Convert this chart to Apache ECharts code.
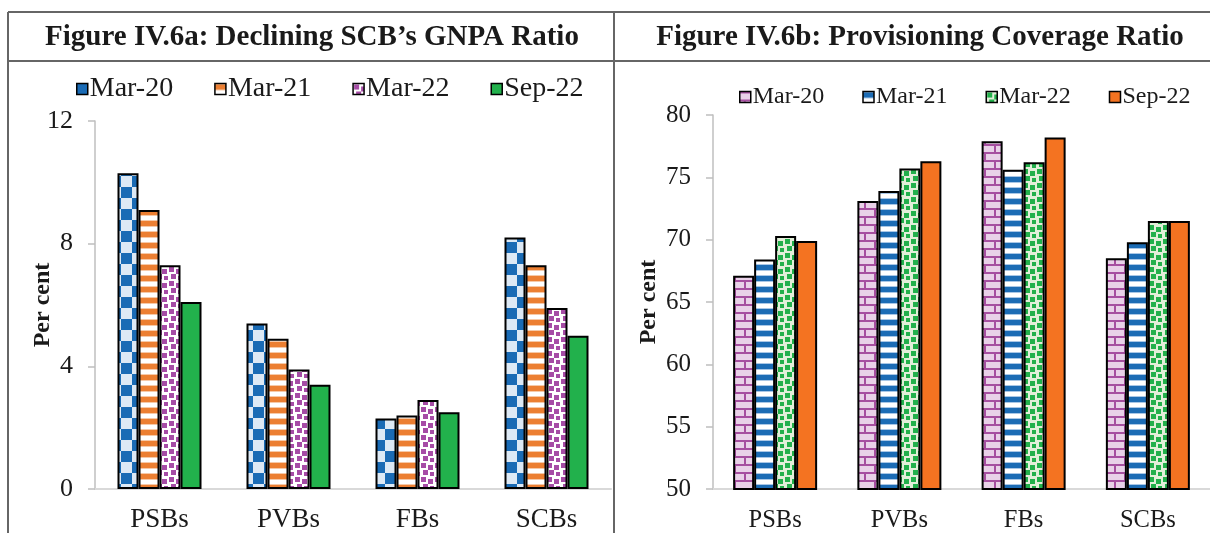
<!DOCTYPE html>
<html>
<head>
<meta charset="utf-8">
<script src="https://cdn.jsdelivr.net/npm/echarts@6/dist/echarts.min.js"></script>
<style>
  html, body { margin: 0; padding: 0; background: #fff; }
  #main { width: 1210px; height: 533px; }
</style>
</head>
<body>
<div id="main"></div>
<script>
// categories and series names
var banks = ['PSBs', 'PVBs', 'FBs', 'SCBs'];
var periods = ['Mar-20', 'Mar-21', 'Mar-22', 'Sep-22'];

// Figure IV.6a: GNPA ratio (per cent)
var gnpaMar20 = [10.3, 5.4, 2.3, 8.2];
var gnpaMar21 = [9.1, 4.9, 2.4, 7.3];
var gnpaMar22 = [7.3, 3.9, 2.9, 5.9];
var gnpaSep22 = [6.1, 3.4, 2.5, 5.0];

// Figure IV.6b: provisioning coverage ratio (per cent)
var pcrMar20 = [67.1, 73.1, 77.9, 68.5];
var pcrMar21 = [68.4, 73.9, 75.6, 69.8];
var pcrMar22 = [70.3, 75.7, 76.2, 71.5];
var pcrSep22 = [69.9, 76.3, 78.2, 71.5];

var gnpaTicks = {min: 0, max: 12, interval: 4};
var pcrTicks = {min: 50, max: 80, interval: 5};

var FONT = 'Liberation Serif';

// 纹理填充
function tile(w, h, draw) {
    var c = document.createElement('canvas');
    c.width = w; c.height = h;
    var ctx = c.getContext('2d');
    draw(ctx);
    return {image: c, repeat: 'repeat'};
}
function stripes(color, pale) {
    return tile(4, 11, function (ctx) {
        ctx.fillStyle = '#fff'; ctx.fillRect(0, 0, 4, 11);
        ctx.fillStyle = pale; ctx.fillRect(0, 0, 4, 1); ctx.fillRect(0, 6, 4, 1);
        ctx.fillStyle = color; ctx.fillRect(0, 1, 4, 5);
    });
}
function confetti(bg, fg, s) {
    return tile(14, 14, function (ctx) {
        ctx.fillStyle = bg; ctx.fillRect(0, 0, 14, 14);
        ctx.fillStyle = fg;
        [[1, 1], [8, 3], [3, 8], [10, 10]].forEach(function (p) {
            ctx.fillRect(p[0], p[1], s, s);
        });
    });
}
var checker = tile(22, 22, function (ctx) {
    ctx.fillStyle = '#dde9f5'; ctx.fillRect(0, 0, 22, 22);
    ctx.fillStyle = '#1a6bb5'; ctx.fillRect(0, 0, 11, 11); ctx.fillRect(11, 11, 11, 11);
});
var brick = tile(20, 16, function (ctx) {
    ctx.fillStyle = '#e9d1e8'; ctx.fillRect(0, 0, 20, 16);
    ctx.fillStyle = '#a64fa0';
    ctx.fillRect(0, 0, 20, 2); ctx.fillRect(0, 8, 20, 2);
    ctx.fillRect(14, 2, 2, 6); ctx.fillRect(4, 10, 2, 6);
});

var leftFills = [checker, stripes('#ec7f32', '#f6c9a8'), confetti('#ffffff', '#a64ca6', 5), '#22b14c'];
var rightFills = [brick, stripes('#1c6cb5', '#a9c7e6'), confetti('#e2efd9', '#22b04b', 5), '#f47321'];

function barSeries(name, data, fill, idx) {
    return {
        name: name,
        type: 'bar',
        xAxisIndex: idx,
        yAxisIndex: idx,
        data: data,
        barWidth: 21,
        barGap: '0%',
        itemStyle: {color: fill, borderColor: '#000', borderWidth: 2}
    };
}

function catAxis(idx, size, margin) {
    return {
        type: 'category', gridIndex: idx, data: banks,
        axisLine: {lineStyle: {color: '#d9d9d9', width: 2}},
        axisTick: {show: false},
        axisLabel: {fontFamily: FONT, fontSize: size, color: '#1a1a1a', margin: margin}
    };
}
function valAxis(idx, ticks, size, gap) {
    return {
        type: 'value', gridIndex: idx,
        min: ticks.min, max: ticks.max, interval: ticks.interval,
        name: 'Per cent', nameLocation: 'middle', nameGap: gap,
        nameMoveOverlap: false,
        nameTextStyle: {fontFamily: FONT, fontSize: 24, fontWeight: 'bold', color: '#1a1a1a'},
        axisLine: {show: true, lineStyle: {color: '#bfbfbf', width: 1.5}},
        axisTick: {show: true, length: 7, lineStyle: {color: '#bfbfbf', width: 1.5}},
        splitLine: {show: false},
        axisLabel: {fontFamily: FONT, fontSize: size, color: '#1a1a1a', margin: 22}
    };
}

var frame = {stroke: '#666', lineWidth: 2};
function line(x1, y1, x2, y2) {
    return {type: 'line', shape: {x1: x1, y1: y1, x2: x2, y2: y2}, style: frame, silent: true};
}

var chart = echarts.init(document.getElementById('main'), null, {renderer: 'canvas'});
var option = {
    animation: false,
    title: [
        {text: 'Figure IV.6a: Declining SCB’s GNPA Ratio', left: 312, top: 23, padding: 0, textAlign: 'center',
         textStyle: {fontFamily: FONT, fontSize: 29, fontWeight: 'bold', color: '#1a1a1a'}},
        {text: 'Figure IV.6b: Provisioning Coverage Ratio', left: 920, top: 23, padding: 0, textAlign: 'center',
         textStyle: {fontFamily: FONT, fontSize: 29, fontWeight: 'bold', color: '#1a1a1a'}}
    ],
    legend: [
        {data: periods, left: 76, top: 75, padding: 0, icon: 'rect', itemWidth: 11, itemHeight: 11, itemGap: 41,
         itemStyle: {borderColor: '#000', borderWidth: 1.5},
         textStyle: {fontFamily: FONT, fontSize: 28, color: '#1a1a1a', padding: [0, 0, 0, -3]},
         selectedMode: false},
        {data: periods.map(function (p) { return p + ' '; }), left: 739, top: 85, padding: 0, icon: 'rect', itemWidth: 11, itemHeight: 11, itemGap: 32,
         itemStyle: {borderColor: '#000', borderWidth: 1.5},
         textStyle: {fontFamily: FONT, fontSize: 24, color: '#1a1a1a', padding: [0, 0, 0, -3]},
         selectedMode: false}
    ],
    grid: [
        {left: 95, top: 121, width: 516, height: 370},
        {left: 713, top: 115, width: 502, height: 375}
    ],
    xAxis: [catAxis(0, 27, 17), catAxis(1, 24.5, 19)],
    yAxis: [valAxis(0, gnpaTicks, 26, 40), valAxis(1, pcrTicks, 25, 52)],
    series: [
        barSeries(periods[0], gnpaMar20, leftFills[0], 0),
        barSeries(periods[1], gnpaMar21, leftFills[1], 0),
        barSeries(periods[2], gnpaMar22, leftFills[2], 0),
        barSeries(periods[3], gnpaSep22, leftFills[3], 0),
        barSeries(periods[0] + ' ', pcrMar20, rightFills[0], 1),
        barSeries(periods[1] + ' ', pcrMar21, rightFills[1], 1),
        barSeries(periods[2] + ' ', pcrMar22, rightFills[2], 1),
        barSeries(periods[3] + ' ', pcrSep22, rightFills[3], 1)
    ],
    graphic: [
        line(8, 12, 1210, 12),
        line(8, 61, 1210, 61),
        line(8, 12, 8, 533),
        line(614, 12, 614, 533)
    ]
};
chart.setOption(option);
</script>
</body>
</html>
